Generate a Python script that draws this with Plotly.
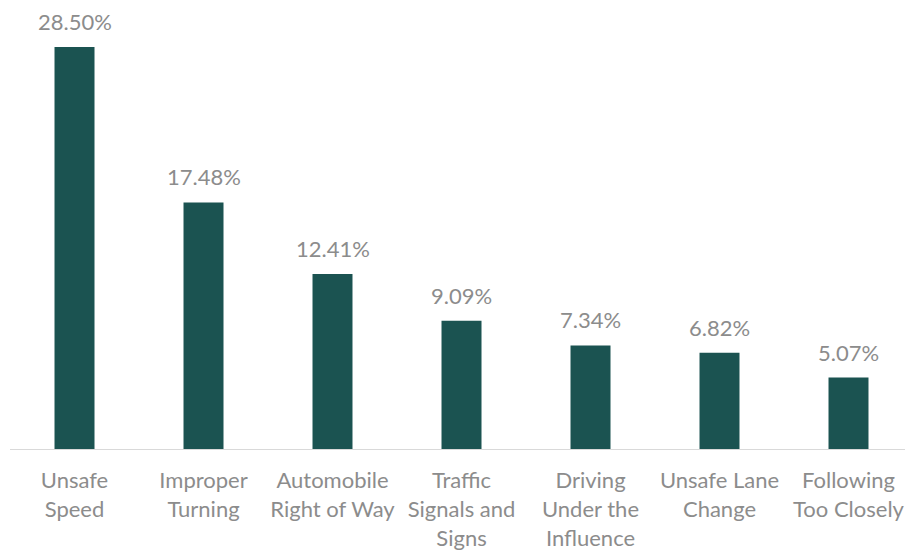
import plotly.graph_objects as go

categories = ["Unsafe<br>Speed", "Improper<br>Turning", "Automobile<br>Right of Way",
              "Traffic<br>Signals and<br>Signs", "Driving<br>Under the<br>Influence",
              "Unsafe Lane<br>Change", "Following<br>Too Closely"]
values = [28.50, 17.48, 12.41, 9.09, 7.34, 6.82, 5.07]
labels = [f"{v:.2f}%" for v in values]

bar_color = "#1b5351"
text_color = "#8c8c8c"
font_family = "Lato, 'Source Sans Pro', sans-serif"

fig = go.Figure(go.Bar(
    x=categories, y=values,
    marker=dict(color=bar_color, line=dict(width=0)),
    width=0.31,
    hoverinfo="skip",
))

for c, v, t in zip(categories, values, labels):
    fig.add_annotation(x=c, y=v, text=t, showarrow=False, yanchor="bottom",
                       yshift=10, font=dict(size=22, color=text_color, family=font_family))

fig.update_layout(
    width=905, height=548,
    margin=dict(l=2, r=0, t=0, b=107, autoexpand=False),
    plot_bgcolor="white", paper_bgcolor="white",
    showlegend=False,
    xaxis=dict(showline=True, linecolor="#d9d9d9", linewidth=1, ticks="",
               tickfont=dict(size=22, color=text_color, family=font_family),
               showgrid=False, automargin=False, ticklabelstandoff=12),
    yaxis=dict(range=[0, 31.27], visible=False, showgrid=False, automargin=False),
)

fig.write_html("out.html")
